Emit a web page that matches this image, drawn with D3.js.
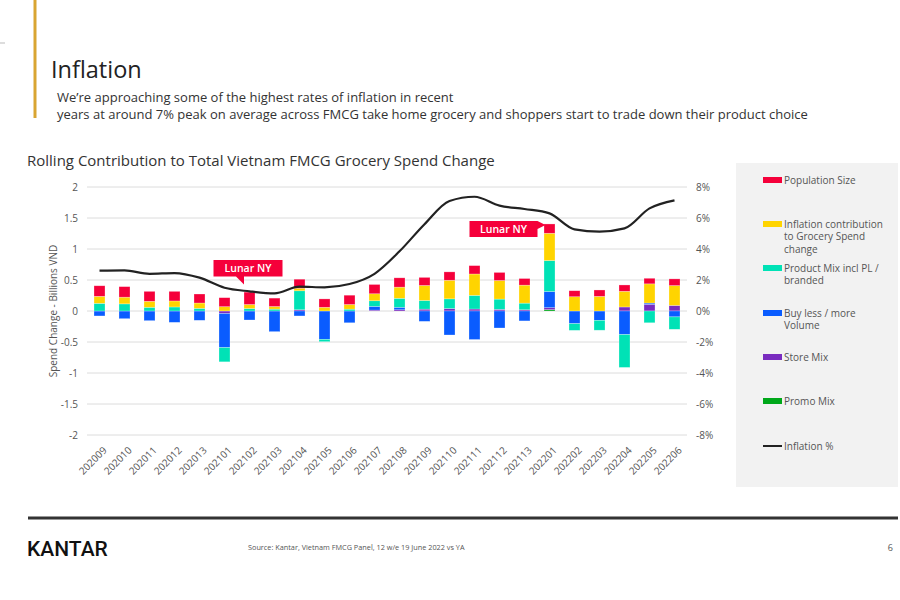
<!DOCTYPE html>
<html><head><meta charset="utf-8">
<script src="https://cdn.jsdelivr.net/npm/d3@7"></script>
<style>body{margin:0;background:#fff}svg{display:block}text{font-family:"Open Sans","Noto Sans",sans-serif}</style>
</head><body><svg id="c" width="900" height="600"></svg>
<script>
const periods = ["202009","202010","202011","202012","202013","202101","202102","202103","202104","202105","202106","202107","202108","202109","202110","202111","202112","202113","202201","202202","202203","202204","202205","202206"];
const population = [0.17,0.17,0.16,0.155,0.145,0.145,0.20,0.135,0.145,0.135,0.15,0.15,0.15,0.13,0.135,0.135,0.13,0.107,0.15,0.097,0.103,0.102,0.09,0.108];
const inflationContrib = [0.113,0.108,0.097,0.097,0.086,0.07,0.065,0.043,0.042,0.06,0.075,0.113,0.18,0.242,0.30,0.345,0.30,0.29,0.44,0.23,0.236,0.253,0.31,0.32];
const productMix = [0.124,0.115,0.06,0.065,0.043,-0.23,0.04,0.03,0.306,-0.038,0.03,0.09,0.145,0.14,0.156,0.22,0.165,0.107,0.50,-0.108,-0.16,-0.53,-0.19,-0.20];
const volume = [-0.08,-0.124,-0.156,-0.183,-0.15,-0.55,-0.145,-0.333,-0.08,-0.457,-0.19,0.06,0.04,-0.167,-0.387,-0.46,-0.274,-0.16,0.26,-0.204,-0.15,-0.38,0.02,-0.095];
const storeMix = [0,0,0,0,0,-0.04,0,0,0.02,0,0,0.015,0.02,0.03,0.04,0.032,0.027,0.02,0.032,0,0,0.065,0.108,0.09];
const promoMix = [0,0,0,0,0,0,0,0,0,0,0,0,0,0,0,0,0,0,0.022,0,0,0,0,0];
const inflationPct = [2.6,2.62,2.4,2.45,2.15,1.5,1.27,1.14,1.57,1.53,1.74,2.4,3.85,5.6,7.1,7.37,6.8,6.58,6.3,5.27,5.12,5.33,6.62,7.14];
const leftTicks = [2,1.5,1,0.5,0,-0.5,-1,-1.5,-2];
const rightTicks = [8,6,4,2,0,-2,-4,-6,-8];
const lunarNY = ["202102","202201"];

const seriesKeys = ["promo","store","volume","mix","infl","pop"];
const seriesColor = {pop:"#f5003a",infl:"#ffd400",mix:"#00e2b6",volume:"#0a5cff",store:"#7a2cbf",promo:"#00a81a"};
const legendItems = [
  {key:"pop",lines:["Population Size"],y:180},
  {key:"infl",lines:["Inflation contribution","to Grocery Spend","change"],y:224},
  {key:"mix",lines:["Product Mix incl PL /","branded"],y:268},
  {key:"volume",lines:["Buy less / more","Volume"],y:313},
  {key:"store",lines:["Store Mix"],y:357},
  {key:"promo",lines:["Promo Mix"],y:401},
  {key:"line",lines:["Inflation %"],y:446}
];

const rows = periods.map((p,i)=>({period:p,pop:population[i],infl:inflationContrib[i],mix:productMix[i],volume:volume[i],store:storeMix[i],promo:promoMix[i]}));

const svg = d3.select("#c");
const x = d3.scaleBand().domain(periods).range([87,687]).paddingInner(0.56).paddingOuter(0.28);
const y = d3.scaleLinear().domain([-2,2]).range([435,187]);
const y2 = d3.scaleLinear().domain([-8,8]).range([435,187]);

// header
svg.append("line").attr("x1",35).attr("x2",35).attr("y1",0).attr("y2",118).attr("stroke","#d9a532").attr("stroke-width",3);
svg.append("line").attr("x1",0).attr("x2",5).attr("y1",43).attr("y2",43).attr("stroke","#bbb").attr("stroke-width",1);
svg.append("text").attr("x",51).attr("y",78).attr("font-size",23.5).attr("fill","#222").text("Inflation");
svg.append("text").attr("x",57).attr("y",102).attr("font-size",13).attr("fill","#333").text("We’re approaching some of the highest rates of inflation in recent");
svg.append("text").attr("x",57).attr("y",119).attr("font-size",13).attr("fill","#333").text("years at around 7% peak on average across FMCG take home grocery and shoppers start to trade down their product choice");
svg.append("text").attr("x",27).attr("y",166).attr("font-size",15).attr("fill","#333").text("Rolling Contribution to Total Vietnam FMCG Grocery Spend Change");

// grid
svg.append("g").selectAll("line").data(leftTicks).join("line")
  .attr("x1",87).attr("x2",687).attr("y1",d=>y(d)).attr("y2",d=>y(d))
  .attr("stroke","#dcdcdc").attr("stroke-width",1);

// axes
const yAxis = d3.axisLeft(y).tickValues(leftTicks).tickSize(0).tickPadding(9).tickFormat(d=>String(d));
const gy = svg.append("g").attr("transform","translate(87,0)").call(yAxis);
gy.select(".domain").remove();
gy.selectAll("text").attr("font-size",10).attr("fill","#555").style("font-family","'Open Sans',sans-serif");
const y2Axis = d3.axisRight(y2).tickValues(rightTicks).tickSize(0).tickPadding(9).tickFormat(d=>d+"%");
const gy2 = svg.append("g").attr("transform","translate(687,0)").call(y2Axis);
gy2.select(".domain").remove();
gy2.selectAll("text").attr("font-size",10).attr("fill","#555").style("font-family","'Open Sans',sans-serif");

svg.append("text").attr("transform","translate(57,311) rotate(-90)").attr("text-anchor","middle")
  .attr("font-size",10).attr("fill","#555").text("Spend Change - Billions VND");

// x labels
svg.append("g").selectAll("text").data(periods).join("text")
  .attr("transform",d=>`translate(${x(d)+x.bandwidth()/2+3},${446}) rotate(-45)`)
  .attr("text-anchor","end").attr("dy","0.7em").attr("font-size",10).attr("fill","#555").text(d=>d);

// bars
const stack = d3.stack().keys(seriesKeys).offset(d3.stackOffsetDiverging)(rows);
svg.append("g").selectAll("g").data(stack).join("g").attr("fill",d=>seriesColor[d.key])
  .selectAll("rect").data(d=>d).join("rect")
  .attr("x",d=>x(d.data.period)).attr("width",x.bandwidth())
  .attr("y",d=>y(Math.max(d[0],d[1]))).attr("height",d=>Math.abs(y(d[0])-y(d[1])))
  .attr("stroke","#fff").attr("stroke-opacity",0.45).attr("stroke-width",0.6);

// inflation line
const line = d3.line().x((d,i)=>x(periods[i])+x.bandwidth()/2).y(d=>y2(d)).curve(d3.curveMonotoneX);
svg.append("path").datum(inflationPct).attr("d",line).attr("fill","none").attr("stroke","#222").attr("stroke-width",2.2);

// callouts
function topOf(p){const i=periods.indexOf(p);let s=0;seriesKeys.forEach(k=>{const v=rows[i][k];if(v>0)s+=v;});return y(s);}
(function(){
  const p=lunarNY[0], cx=x(p)+x.bandwidth()/2, t=topOf(p);
  const tipX=cx-5.5, tipY=t-7.5, bottom=tipY-8, top=bottom-16.5, left=cx-36, right=cx+33;
  const g=svg.append("g");
  g.append("path").attr("d",`M${left},${top}H${right}V${bottom}H${tipX}L${tipX},${tipY}L${tipX-8},${bottom}H${left}Z`).attr("fill","#f5003a");
  g.append("text").attr("x",(left+right)/2).attr("y",(top+bottom)/2).attr("dy","0.35em").attr("text-anchor","middle")
    .attr("font-size",10.5).attr("font-weight",600).attr("fill","#fff").text("Lunar NY");
})();
(function(){
  const p=lunarNY[1], cx=x(p)+x.bandwidth()/2, t=topOf(p);
  const right=cx-12, left=cx-80, top=t-3, bottom=top+16;
  const g=svg.append("g");
  g.append("path").attr("d",`M${left},${top}H${right}L${right+8},${top+4}L${right},${top+8}V${bottom}H${left}Z`).attr("fill","#f5003a");
  g.append("text").attr("x",(left+right)/2).attr("y",(top+bottom)/2).attr("dy","0.35em").attr("text-anchor","middle")
    .attr("font-size",10.5).attr("font-weight",600).attr("fill","#fff").text("Lunar NY");
})();

// legend
svg.append("rect").attr("x",736).attr("y",163).attr("width",162).attr("height",324).attr("fill","#f2f2f2");
const lg = svg.append("g").selectAll("g").data(legendItems).join("g");
lg.each(function(d){
  const g=d3.select(this);
  if(d.key==="line") g.append("line").attr("x1",763).attr("x2",782).attr("y1",d.y).attr("y2",d.y).attr("stroke","#222").attr("stroke-width",2);
  else g.append("rect").attr("x",763).attr("y",d.y-3).attr("width",19).attr("height",6).attr("fill",seriesColor[d.key]);
  d.lines.forEach((l,j)=>g.append("text").attr("x",784).attr("y",d.y+j*12.5).attr("dy","0.35em").attr("font-size",10).attr("fill","#555").text(l));
});

// footer
svg.append("line").attr("x1",28).attr("x2",898).attr("y1",518).attr("y2",518).attr("stroke","#333").attr("stroke-width",3);
svg.append("text").attr("x",27).attr("y",556).attr("font-size",21).attr("font-weight",500).attr("fill","#111").style("font-family","Roboto,sans-serif").text("KANTAR");
svg.append("text").attr("x",248).attr("y",550).attr("font-size",7.3).attr("fill","#555").text("Source: Kantar, Vietnam FMCG Panel, 12 w/e 19 June 2022 vs YA");
svg.append("text").attr("x",893).attr("y",551).attr("font-size",9).attr("fill","#555").attr("text-anchor","end").text("6");
</script></body></html>
